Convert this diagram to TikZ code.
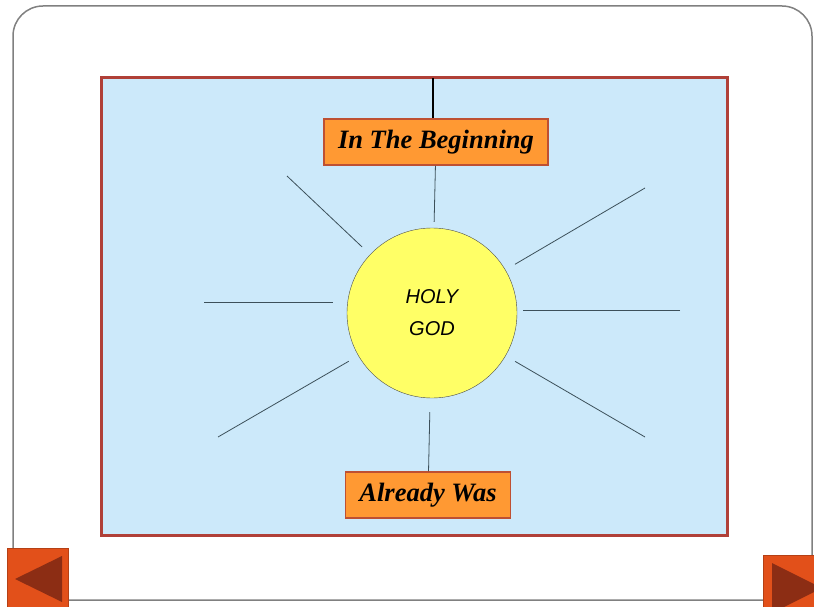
\documentclass[tikz,border=0pt]{standalone}
\usepackage{fontspec}
\setmainfont{Liberation Serif}
\setsansfont{Liberation Sans}
\definecolor{panelblue}{RGB}{204,233,250}
\definecolor{panelred}{RGB}{176,64,56}
\definecolor{boxorange}{RGB}{255,153,51}
\definecolor{boxedge}{RGB}{190,80,50}
\definecolor{sunyellow}{RGB}{255,255,102}
\definecolor{raygrey}{RGB}{60,80,90}
\definecolor{navred}{RGB}{226,80,26}
\definecolor{navdark}{RGB}{140,45,20}
\tikzset{
	titlebox/.style={draw=boxedge,line width=1.5pt,fill=boxorange,minimum height=46pt,inner sep=0pt,
		font=\fontsize{26.5}{30}\selectfont\bfseries\itshape},
	sun/.style={circle,draw=black!70,fill=sunyellow,minimum size=170pt,inner sep=0pt,align=center,
		font=\sffamily\itshape\fontsize{20}{32}\selectfont},
	ray/.style={draw=raygrey,line width=0.8pt,shorten <=11pt},
	navbtn/.style={fill=navred,draw=navred!80!black}
}
\begin{document}
\begin{tikzpicture}[x=1pt,y=-1pt]
	\useasboundingbox (0,0) rectangle (814,607);
	\draw[gray,line width=1.5pt,rounded corners=30pt] (13,6) rectangle (812,600);
	\draw[panelred,line width=3pt,fill=panelblue] (101,78) rectangle (727,535);
	\node[sun] (god) at (432,313) {HOLY\\GOD};
	\node[titlebox,minimum width=224pt] (begin) at (436,142) {In The Beginning};
	\node[titlebox,minimum width=165pt] (was) at (428,495) {Already Was};
	\coordinate (top) at (433,78);
	\coordinate (r1) at (287,176);
	\coordinate (r2) at (645,188);
	\coordinate (r3) at (204,302);
	\coordinate (r4) at (680,310);
	\coordinate (r5) at (218,437);
	\coordinate (r6) at (645,437);
	\draw[line width=1.5pt] (top) -- (top |- begin.north);
	\draw[ray,shorten <=0pt,shorten >=6pt] (begin) -- (god);
	\draw[ray,shorten <=0pt,shorten >=14pt] (was) -- (god);
	\foreach \r in {1,2,5,6}
		\draw[ray] (god) -- (r\r);
	\draw[ray,shorten <=0pt,shorten >=14pt] (r3) -- (r3 -| god.west);
	\draw[ray,shorten <=0pt,shorten >=6pt] (r4) -- (r4 -| god.east);
	\fill[navbtn] (7,548) rectangle (68,607);
	\fill[navdark] (15,579) -- (62,556) -- (62,602) -- cycle;
	\begin{scope}
		\clip (763,555) rectangle (814,607);
		\fill[navbtn] (763,555) rectangle (814,607);
		\fill[navdark] (772,563) -- (822,588) -- (772,613) -- cycle;
	\end{scope}
\end{tikzpicture}
\end{document}
